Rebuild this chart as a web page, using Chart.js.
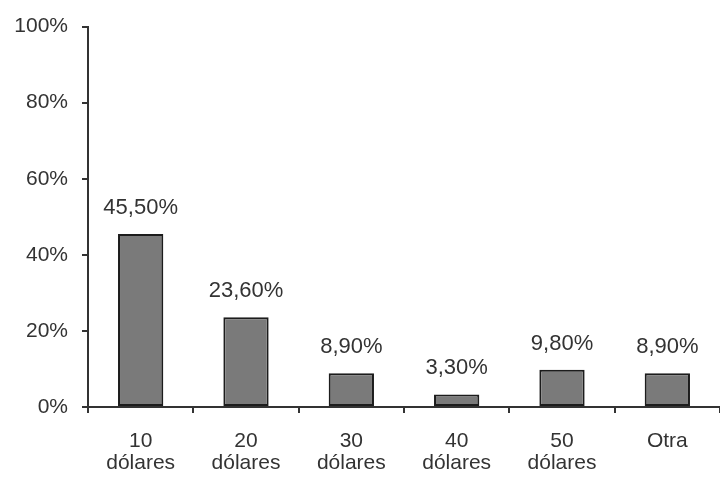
<!DOCTYPE html>
<html>
<head>
<meta charset="utf-8">
<script src="https://cdn.jsdelivr.net/npm/chart.js@4"></script>
<style>
html,body{margin:0;padding:0;background:#fff;overflow:hidden}
canvas{display:block}
</style>
</head>
<body>
<canvas id="c" width="720" height="483"></canvas>
<script>
const categories = [["10","dólares"],["20","dólares"],["30","dólares"],["40","dólares"],["50","dólares"],["Otra"]];
const values = [45.5, 23.6, 8.9, 3.3, 9.8, 8.9];
const valueLabels = ["45,50%","23,60%","8,90%","3,30%","9,80%","8,90%"];
const yTicks = [0,20,40,60,80,100];

const FONT = "'Liberation Sans', Arial, sans-serif";
const TXT = '#333333';

const labelPlugin = {
  id: 'valueLabels',
  afterDatasetsDraw(chart) {
    const ctx = chart.ctx;
    const meta = chart.getDatasetMeta(0);
    ctx.save();
    ctx.font = '22px ' + FONT;
    ctx.fillStyle = TXT;
    ctx.textAlign = 'center';
    ctx.textBaseline = 'alphabetic';
    meta.data.forEach((bar, i) => {
      ctx.fillText(valueLabels[i], bar.x, bar.y - 20);
    });
    ctx.restore();
  }
};

new Chart(document.getElementById('c'), {
  type: 'bar',
  data: {
    labels: categories,
    datasets: [{
      data: values,
      backgroundColor: '#7a7a7a',
      borderColor: '#1c1c1c',
      borderWidth: 2,
      borderSkipped: false,
      barPercentage: 0.43,
      categoryPercentage: 1
    }]
  },
  options: {
    responsive: false,
    animation: false,
    devicePixelRatio: 1,
    layout: { padding: { top: 25, right: 0, left: 0, bottom: 0 } },
    plugins: { legend: { display: false }, tooltip: { enabled: false } },
    scales: {
      x: {
        afterFit(s) { s.height = 76; },
        grid: { display: true, drawOnChartArea: false, offset: true, tickLength: 6, color: '#333', lineWidth: 2 },
        border: { display: true, color: '#333', width: 2 },
        ticks: { color: TXT, font: { size: 21, family: FONT, lineHeight: 1.05 }, padding: 17, maxRotation: 0, autoSkip: false }
      },
      y: {
        min: 0, max: 100,
        afterFit(s) { s.width = 88; },
        afterBuildTicks(s) { s.ticks = yTicks.map(v => ({ value: v })); },
        grid: { display: true, drawOnChartArea: false, tickLength: 6, color: '#333', lineWidth: 2 },
        border: { display: true, color: '#333', width: 2 },
        ticks: { color: TXT, font: { size: 21, family: FONT }, padding: 14, callback: v => v + '%' }
      }
    }
  },
  plugins: [labelPlugin]
});
</script>
</body>
</html>
